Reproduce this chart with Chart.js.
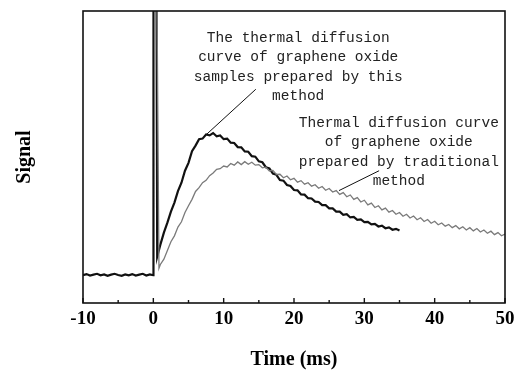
<!DOCTYPE html>
<html lang="en">
<head>
    <style>
        html, body { margin: 0; padding: 0; background: #fff; }
        #wrap { width: 523px; height: 370px; }
    </style>
</head>
<body>
    <div id="wrap">
        <canvas id="myChart" width="523" height="370"></canvas>
    </div>

    <script src="https://cdn.jsdelivr.net/npm/chart.js@4.4.1/dist/chart.umd.min.js"></script>

    <script>
        // black curve: samples prepared by this method
        var timeNew = [-10, -9.5, -9, -8.5, -8, -7.5, -7, -6.5, -6, -5.5, -5, -4.5, -4, -3.5, -3, -2.5, -2, -1.5, -1, -0.5, 0,
            0.02, 0.45, 0.55,
            1, 1.5, 2, 2.5, 3, 3.5, 4, 4.5, 5, 5.5, 6, 6.5, 7, 7.5, 8, 8.5, 9, 9.5, 10, 10.5,
            11, 11.5, 12, 12.5, 13, 13.5, 14, 14.5, 15, 15.5, 16, 16.5, 17, 17.5, 18, 18.5, 19, 19.5, 20, 20.5,
            21, 21.5, 22, 22.5, 23, 23.5, 24, 24.5, 25, 25.5, 26, 26.5, 27, 27.5, 28, 28.5, 29, 29.5, 30, 30.5,
            31, 31.5, 32, 32.5, 33, 33.5, 34, 34.5, 35];
        var signalNew = [0.95, 0.99, 0.94, 0.97, 1.0, 0.95, 0.98, 0.93, 0.97, 1.0, 0.96, 0.93, 0.98, 0.95, 0.99, 0.94, 0.97, 1.0, 0.94, 0.98, 0.95,
            11, 11, 1.59,
            2.0, 2.41, 2.75, 3.13, 3.44, 3.83, 4.12, 4.53, 4.80, 5.2, 5.39, 5.61, 5.63, 5.77, 5.74, 5.82, 5.71, 5.74, 5.61, 5.63,
            5.49, 5.48, 5.34, 5.33, 5.19, 5.18, 5.03, 5.01, 4.85, 4.82, 4.65, 4.61, 4.43, 4.39, 4.21, 4.19, 4.04, 4.01, 3.87, 3.86,
            3.72, 3.71, 3.59, 3.58, 3.47, 3.46, 3.35, 3.35, 3.24, 3.24, 3.13, 3.13, 3.02, 3.04, 2.93, 2.95, 2.85, 2.86, 2.77, 2.78,
            2.69, 2.71, 2.62, 2.65, 2.56, 2.59, 2.51, 2.54, 2.48];

        // gray curve: traditional method
        var timeOld = [0.5, 0.8, 1, 1.5, 2, 2.5, 3, 3.5, 4, 4.5, 5, 5.5, 6, 6.5, 7, 7.5, 8, 8.5, 9, 9.5, 10, 10.5,
            11, 11.5, 12, 12.5, 13, 13.5, 14, 14.5, 15, 15.5, 16, 16.5, 17, 17.5, 18, 18.5, 19, 19.5, 20, 20.5,
            21, 21.5, 22, 22.5, 23, 23.5, 24, 24.5, 25, 25.5, 26, 26.5, 27, 27.5, 28, 28.5, 29, 29.5, 30, 30.5,
            31, 31.5, 32, 32.5, 33, 33.5, 34, 34.5, 35, 35.5, 36, 36.5, 37, 37.5, 38, 38.5, 39, 39.5, 40, 40.5,
            41, 41.5, 42, 42.5, 43, 43.5, 44, 44.5, 45, 45.5, 46, 46.5, 47, 47.5, 48, 48.5, 49, 49.5, 50];
        var signalOld = [11, 1.19, 1.32, 1.5, 1.8, 2.1, 2.3, 2.6, 2.78, 3.1, 3.33, 3.55, 3.82, 3.95, 4.12, 4.2, 4.36, 4.45, 4.58, 4.6, 4.69, 4.66,
            4.78, 4.72, 4.83, 4.74, 4.84, 4.75, 4.82, 4.72, 4.74, 4.63, 4.65, 4.52, 4.54, 4.4, 4.41, 4.29, 4.35, 4.22, 4.27, 4.14,
            4.19, 4.07, 4.12, 4.0, 4.05, 3.93, 3.99, 3.86, 3.92, 3.8, 3.85, 3.72, 3.78, 3.64, 3.7, 3.55, 3.61, 3.46, 3.52, 3.36,
            3.42, 3.27, 3.33, 3.19, 3.25, 3.11, 3.17, 3.04, 3.1, 2.97, 3.04, 2.91, 2.98, 2.85, 2.92, 2.79, 2.86, 2.73, 2.8, 2.68,
            2.74, 2.63, 2.69, 2.58, 2.65, 2.54, 2.61, 2.5, 2.58, 2.47, 2.55, 2.43, 2.5, 2.39, 2.46, 2.34, 2.41, 2.3, 2.36];

        var xTicks = [-10, 0, 10, 20, 30, 40, 50];

        var noteNew = ['The thermal diffusion', 'curve of graphene oxide', 'samples prepared by this', 'method'];
        var noteOld = ['Thermal diffusion curve', 'of graphene oxide', 'prepared by traditional', 'method'];

        function toPoints(xs, ys) {
            var pts = [];
            for (var i = 0; i < xs.length; i++) {
                pts.push({ x: xs[i], y: ys[i] });
            }
            return pts;
        }

        var frame = {
            id: 'frame',
            afterDatasetsDraw: function (chart) {
                var ctx = chart.ctx;
                var a = chart.chartArea;
                var xs = chart.scales.x;
                var ys = chart.scales.y;
                ctx.save();
                // box
                ctx.strokeStyle = '#111';
                ctx.lineWidth = 1.6;
                ctx.strokeRect(a.left, a.top, a.right - a.left, a.bottom - a.top);
                // inward ticks, major every 10, minor every 5
                ctx.lineWidth = 1.4;
                for (var t = -10; t <= 50; t += 5) {
                    var px = xs.getPixelForValue(t);
                    var len = (t % 10 === 0) ? 5 : 3;
                    ctx.beginPath();
                    ctx.moveTo(px, a.bottom);
                    ctx.lineTo(px, a.bottom - len);
                    ctx.stroke();
                }
                // annotations
                ctx.fillStyle = '#222';
                ctx.font = '14.5px "Liberation Mono", monospace';
                ctx.textAlign = 'center';
                ctx.textBaseline = 'middle';
                var cx1 = xs.getPixelForValue(20.6);
                var cx2 = xs.getPixelForValue(34.9);
                for (var i = 0; i < noteNew.length; i++) {
                    ctx.fillText(noteNew[i], cx1, ys.getPixelForValue(9.08 - i * 0.67));
                }
                for (var j = 0; j < noteOld.length; j++) {
                    ctx.fillText(noteOld[j], cx2, ys.getPixelForValue(6.16 - j * 0.66));
                }
                // leader lines
                ctx.strokeStyle = '#111';
                ctx.lineWidth = 1;
                ctx.beginPath();
                ctx.moveTo(xs.getPixelForValue(14.57), ys.getPixelForValue(7.32));
                ctx.lineTo(xs.getPixelForValue(7.45), ys.getPixelForValue(5.75));
                ctx.moveTo(xs.getPixelForValue(32.1), ys.getPixelForValue(4.53));
                ctx.lineTo(xs.getPixelForValue(26.4), ys.getPixelForValue(3.85));
                ctx.stroke();
                ctx.restore();
            }
        };

        var ctx = document.getElementById('myChart').getContext('2d');
        var chart = new Chart(ctx, {
            type: 'line',
            data: {
                datasets: [
                    {
                        data: toPoints(timeOld, signalOld),
                        borderColor: '#7a7a7a',
                        borderWidth: 1.3,
                        pointRadius: 0,
                        tension: 0
                    },
                    {
                        data: toPoints(timeNew, signalNew),
                        borderColor: '#111',
                        borderWidth: 2.2,
                        pointRadius: 0,
                        tension: 0
                    }
                ]
            },
            options: {
                responsive: false,
                animation: false,
                layout: { padding: { top: 11, right: 18, bottom: 0, left: 0 } },
                plugins: {
                    legend: { display: false },
                    tooltip: { enabled: false }
                },
                scales: {
                    x: {
                        type: 'linear',
                        min: -10,
                        max: 50,
                        afterFit: function (s) { s.height = 67; },
                        afterBuildTicks: function (s) {
                            s.ticks = xTicks.map(function (v) { return { value: v }; });
                        },
                        grid: { display: false, drawTicks: false },
                        border: { display: false },
                        ticks: {
                            color: '#000',
                            padding: 5,
                            maxRotation: 0,
                            font: { family: '"Liberation Serif", serif', size: 19, weight: 'bold' }
                        },
                        title: {
                            display: true,
                            text: 'Time (ms)',
                            color: '#000',
                            padding: { top: 0, bottom: -2 },
                            font: { family: '"Liberation Serif", serif', size: 20, weight: 'bold' }
                        }
                    },
                    y: {
                        min: 0,
                        max: 10,
                        afterFit: function (s) { s.width = 83; },
                        grid: { display: false, drawTicks: false },
                        border: { display: false },
                        ticks: { display: false },
                        title: {
                            display: true,
                            text: 'Signal',
                            color: '#000',
                            padding: { top: 13, bottom: 0 },
                            font: { family: '"Liberation Serif", serif', size: 20, weight: 'bold' }
                        }
                    }
                }
            },
            plugins: [frame]
        });
    </script>
</body>
</html>
